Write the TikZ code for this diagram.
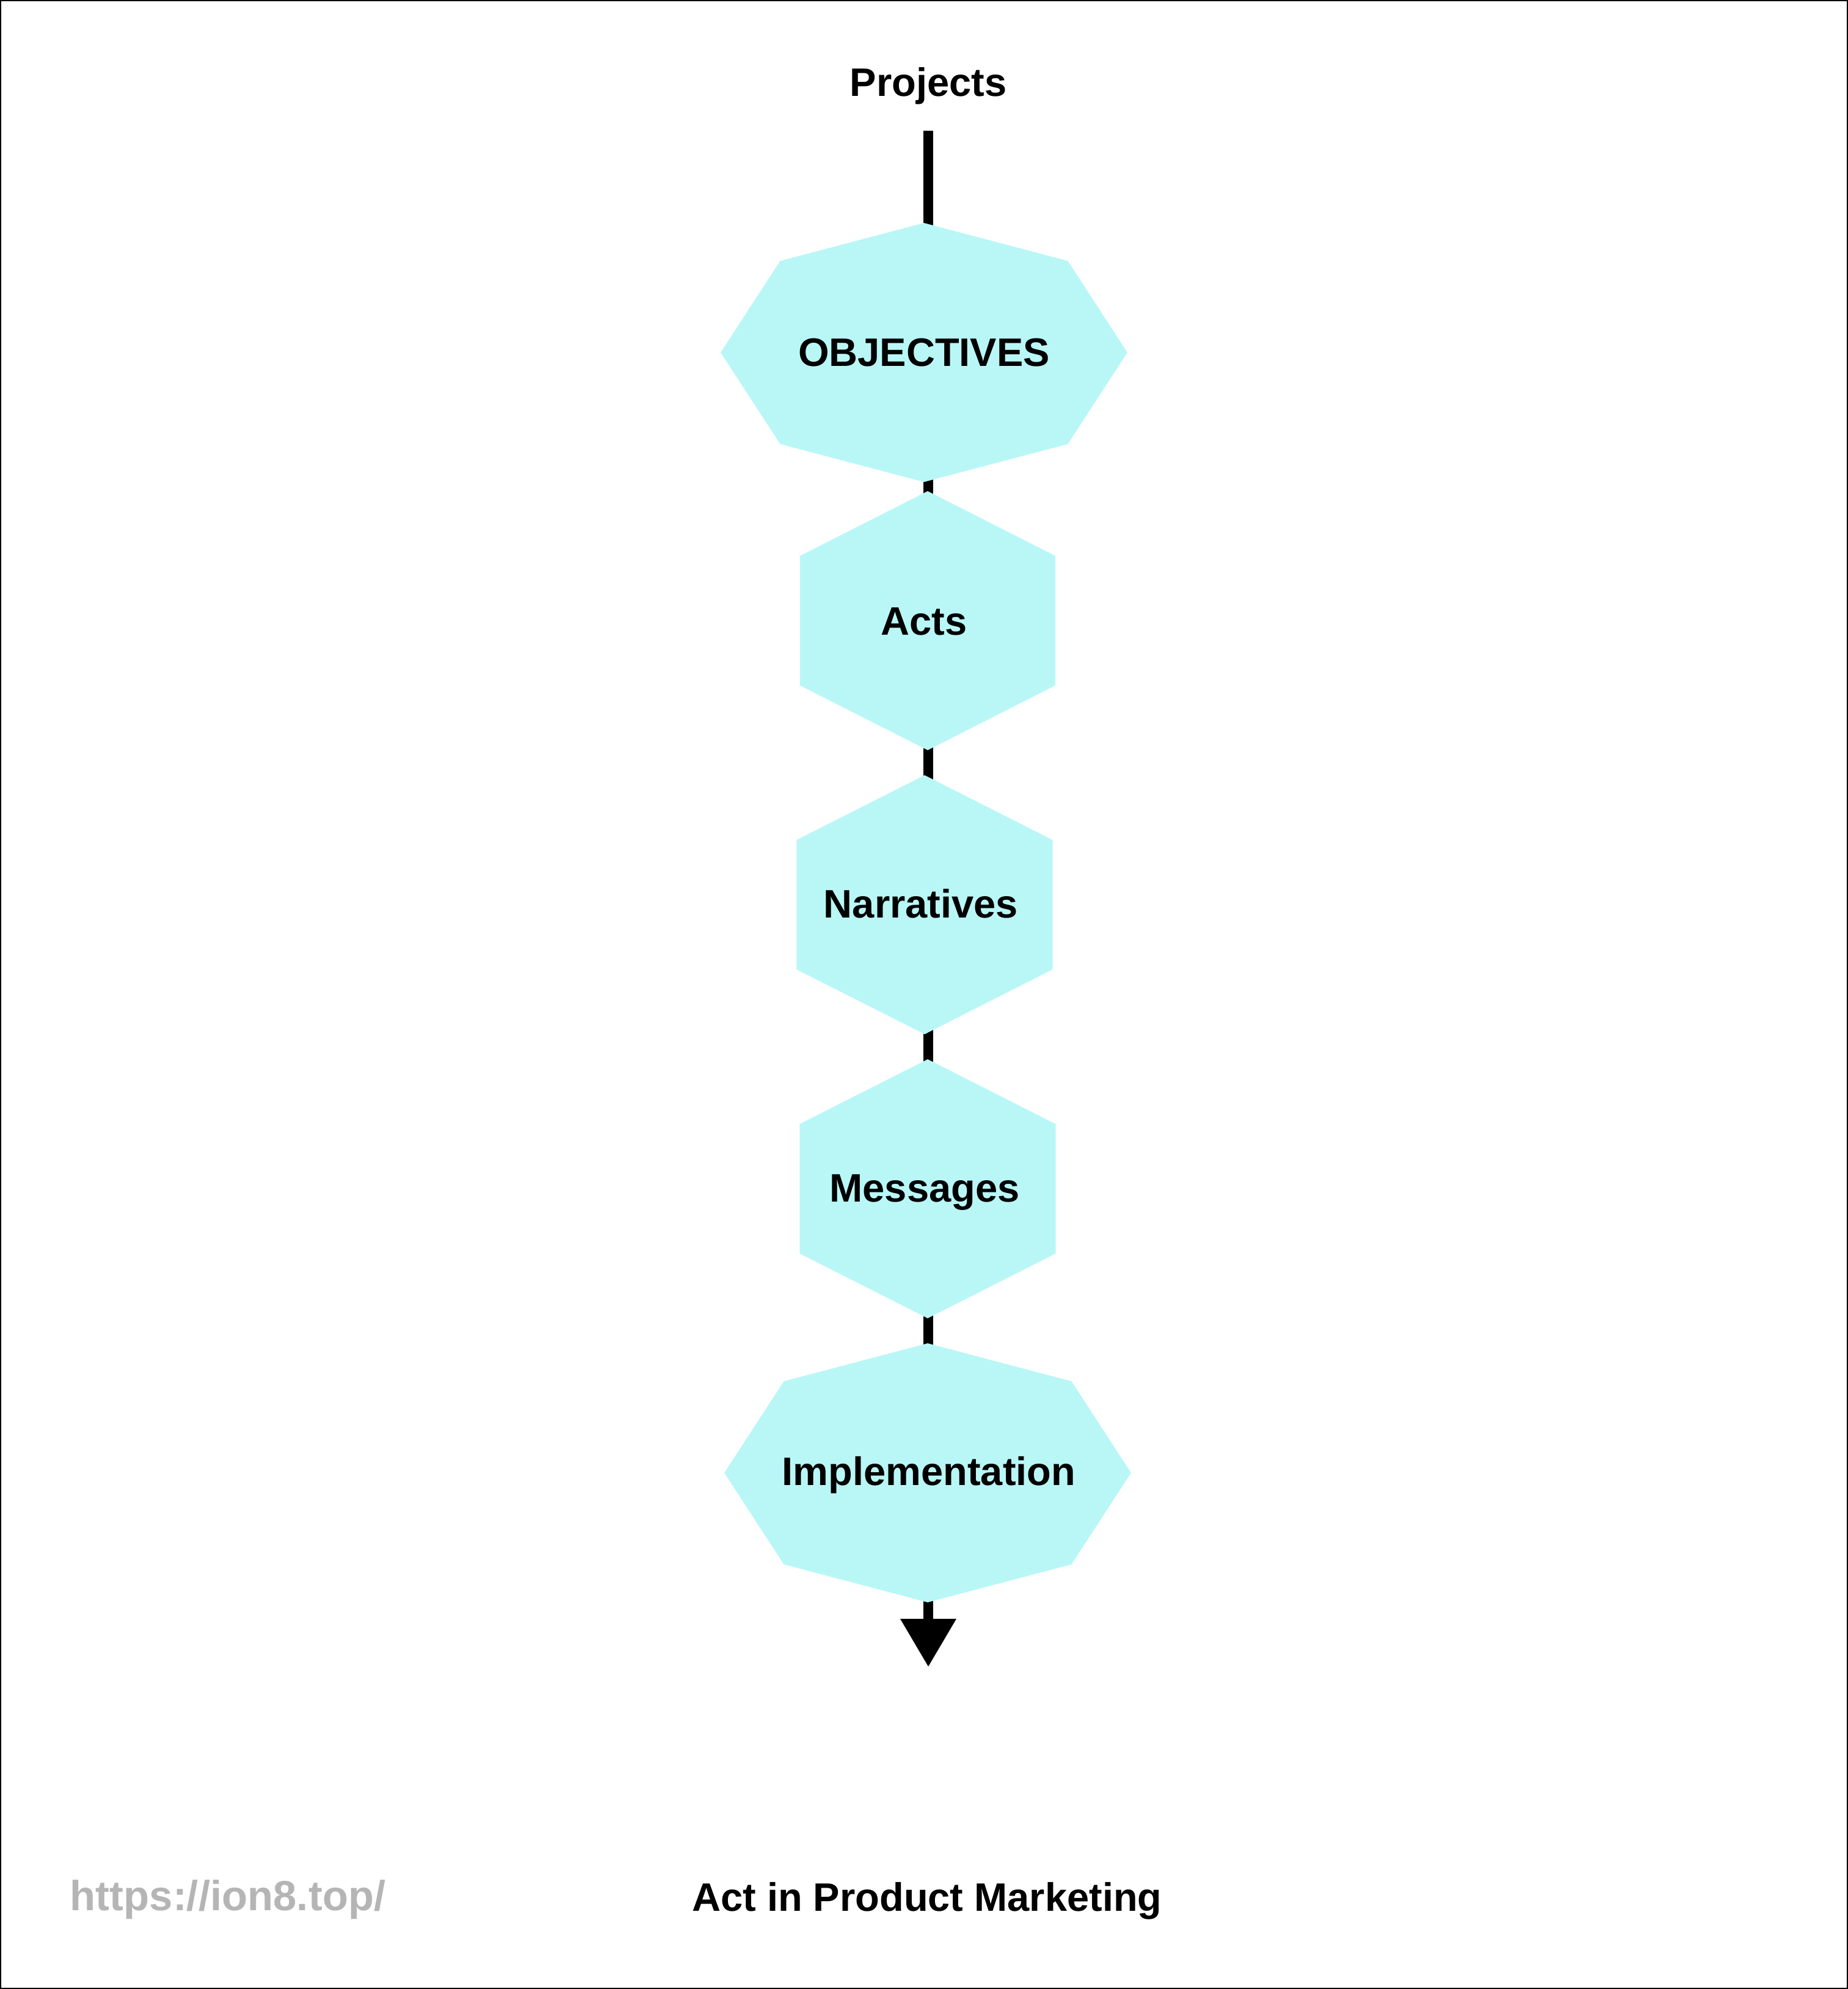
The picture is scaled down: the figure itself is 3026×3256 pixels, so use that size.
\documentclass[tikz,border=0pt]{standalone}
\usepackage{fontspec}
\setmainfont{Liberation Sans}
\usetikzlibrary{arrows.meta,backgrounds}

\definecolor{stagecyan}{RGB}{185,247,247}
\definecolor{urlgray}{RGB}{181,181,181}

\tikzset{
    stagefill/.style={fill=stagecyan},
    stagetext/.style={font=\fontsize{18.5pt}{22pt}\selectfont\bfseries, anchor=base, inner sep=0pt},
    flow/.style={line width=1.6mm, black},
}
\newcommand{\octagonfill}[3]{\fill[stagefill, shift={#1}] (0:#2 and #3) \foreach \a in {45,90,...,315} {-- (\a:#2 and #3)} -- cycle;}
\newcommand{\hexagonfill}[3]{\fill[stagefill, shift={#1}] (30:#2 and #3) \foreach \a in {90,150,...,330} {-- (\a:#2 and #3)} -- cycle;}

\begin{document}
\begin{tikzpicture}[x=0.1mm, y=-0.1mm]

    \useasboundingbox (0,0) rectangle (3026,3256);
    \draw[line width=0.4mm] (0,0) rectangle (3026,3256);

    % Stages, top to bottom
    \octagonfill{(1513,577)}{333}{212}
    \hexagonfill{(1519,1016)}{241.5}{212}
    \hexagonfill{(1514,1481)}{242}{212}
    \hexagonfill{(1519,1946)}{242}{212}
    \octagonfill{(1519,2411)}{333}{212}

    \node[stagetext] (projects) at (1520,158) {Projects};
    \node[stagetext] (obj) at (1513,599) {OBJECTIVES};
    \node[stagetext] (acts) at (1513,1039) {Acts};
    \node[stagetext] (narr) at (1508,1502) {Narratives};
    \node[stagetext] (msg) at (1514,1967) {Messages};
    \node[stagetext] (impl) at (1521,2431) {Implementation};
    \coordinate (arrowtip) at (1520,2728);

    % Spine behind the stages, kept on the x of Projects
    \begin{scope}[on background layer]
        \draw[flow, shorten <=4.2mm] (projects) -- (projects |- obj.north);
        \draw[flow] (obj.south -| projects) -- (acts.north -| projects);
        \draw[flow] (acts.south -| projects) -- (narr.north -| projects);
        \draw[flow] (narr.south -| projects) -- (msg.north -| projects);
        \draw[flow] (msg.south -| projects) -- (impl.north -| projects);
        \draw[flow, -{Triangle[length=7.8mm, width=9.2mm, line width=0pt]}] (impl.south -| projects) -- (arrowtip);
    \end{scope}

    \node[stagetext] (title) at (1518,3128) {Act in Product Marketing};
    \node[stagetext, anchor=base west, font=\fontsize{19.6pt}{23pt}\selectfont\bfseries, text=urlgray] (url) at (114,3127) {https://ion8.top/};

\end{tikzpicture}
\end{document}
